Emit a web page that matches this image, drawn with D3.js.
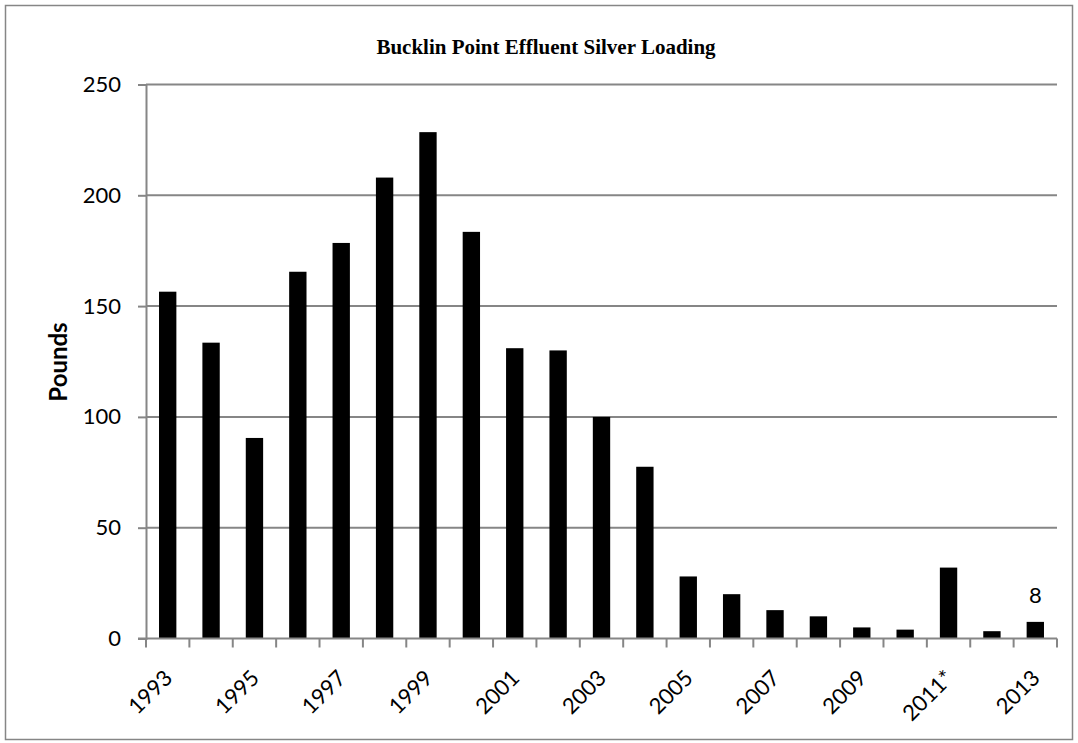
<!DOCTYPE html>
<html>
<head>
<meta charset="utf-8">
<script src="https://cdn.jsdelivr.net/npm/d3@7"></script>
<style>
  html, body { margin: 0; padding: 0; background: #fff; }
  svg { display: block; }
</style>
</head>
<body>
<script>
const categories = ["1993","1994","1995","1996","1997","1998","1999","2000","2001","2002","2003","2004","2005","2006","2007","2008","2009","2010","2011","2012","2013"];
const tickLabels = ["1993","","1995","","1997","","1999","","2001","","2003","","2005","","2007","","2009","","2011*","","2013"];
const silverPounds = [156.5, 133.5, 90.5, 165.5, 178.5, 208, 228.5, 183.5, 131, 130, 100, 77.5, 28, 20, 12.8, 10, 5, 4, 32, 3.3, 7.5];
const labelledIndex = [20];
const yTicks = [0, 50, 100, 150, 200, 250];
const title = "Bucklin Point Effluent Silver Loading";
const yTitle = "Pounds";

const W = 1078, H = 743;
const plot = { left: 146, right: 1057, top: 84.5, bottom: 638.5 };
const grey = "#868686";
const labelFont = "Lato, 'Open Sans', sans-serif";

const svg = d3.select("body").append("svg").attr("width", W).attr("height", H);

// outer chart border
svg.append("rect").attr("x", 5.5).attr("y", 5.5).attr("width", W - 11).attr("height", H - 9)
  .attr("fill", "#fff").attr("stroke", grey).attr("stroke-width", 1.5);

const x = d3.scaleBand().domain(categories).range([plot.left, plot.right])
  .paddingInner(0.6).paddingOuter(0.3);
const y = d3.scaleLinear().domain([0, 250]).range([plot.bottom, plot.top]);

// gridlines + y axis
const yAxis = d3.axisLeft(y).tickValues(yTicks).tickSize(8).tickPadding(17);
const gy = svg.append("g").attr("transform", `translate(${plot.left},0)`).call(yAxis);
gy.select(".domain").attr("stroke", grey).attr("stroke-width", 2);
gy.selectAll(".tick line").attr("stroke", grey).attr("stroke-width", 2);
gy.selectAll(".tick text").attr("font-family", labelFont).attr("font-size", 22).attr("fill", "#000");

svg.append("g").selectAll("line").data(yTicks.filter(t => t > 0)).join("line")
  .attr("x1", plot.left).attr("x2", plot.right)
  .attr("y1", d => y(d)).attr("y2", d => y(d))
  .attr("stroke", grey).attr("stroke-width", 2);

// bars
svg.append("g").selectAll("rect").data(categories).join("rect")
  .attr("x", d => x(d)).attr("width", x.bandwidth())
  .attr("y", (d, i) => y(silverPounds[i]))
  .attr("height", (d, i) => y(0) - y(silverPounds[i]))
  .attr("fill", "#000");

// x axis line and boundary ticks
const step = x.step();
const bounds = categories.map(c => x(c) + x.bandwidth() / 2 - step / 2);
bounds.push(bounds[bounds.length - 1] + step);
svg.append("line").attr("x1", plot.left - 8).attr("x2", plot.right)
  .attr("y1", y(0)).attr("y2", y(0)).attr("stroke", grey).attr("stroke-width", 2);
svg.append("g").selectAll("line").data(bounds).join("line")
  .attr("x1", d => d).attr("x2", d => d)
  .attr("y1", y(0)).attr("y2", y(0) + 9)
  .attr("stroke", grey).attr("stroke-width", 2);

// x labels
svg.append("g").selectAll("text").data(categories).join("text")
  .attr("transform", d => `translate(${x(d) + x.bandwidth() / 2 + 6},${y(0) + 41}) rotate(-45)`)
  .attr("text-anchor", "end")
  .attr("font-family", labelFont).attr("font-size", 22).attr("fill", "#000")
  .text((d, i) => tickLabels[i]);

// data label
svg.append("g").selectAll("text").data(labelledIndex).join("text")
  .attr("x", i => x(categories[i]) + x.bandwidth() / 2)
  .attr("y", i => y(silverPounds[i]) - 19)
  .attr("text-anchor", "middle")
  .attr("font-family", labelFont).attr("font-size", 22).attr("fill", "#000")
  .text(i => Math.round(silverPounds[i]));

// titles
svg.append("text").attr("x", 546).attr("y", 54).attr("text-anchor", "middle")
  .attr("font-family", "'Liberation Serif', 'Times New Roman', serif")
  .attr("font-weight", "bold").attr("font-size", 21).attr("fill", "#000")
  .text(title);

svg.append("text").attr("transform", "translate(67,362) rotate(-90)")
  .attr("text-anchor", "middle")
  .attr("font-family", labelFont).attr("font-weight", "bold").attr("font-size", 24).attr("fill", "#000")
  .text(yTitle);
</script>
</body>
</html>
